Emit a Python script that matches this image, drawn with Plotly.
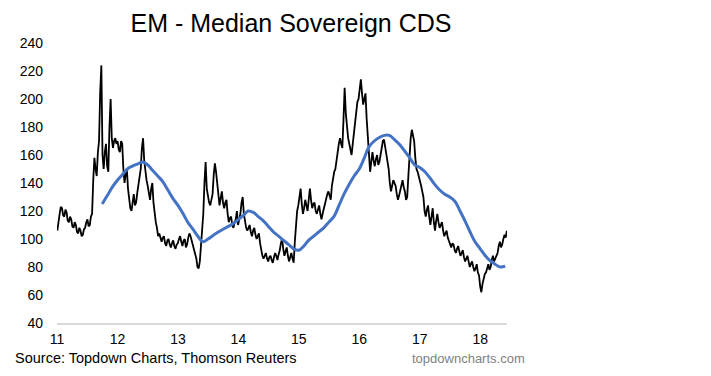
import pandas as pd
import plotly.graph_objects as go

# ---------------- data (weekly readings) ----------------
cds_2011 = [106, 114, 118, 123, 122, 117, 116, 121, 119, 113, 112, 116, 114, 109, 108, 112, 110, 105,
            104, 108, 106, 102, 103, 107, 108, 112, 114, 109, 110, 116, 118, 142, 158, 150, 145, 162,
            170, 205, 224, 160, 150, 162, 168, 152, 148, 180, 200, 172, 165, 170, 172, 168]
cds_2012 = [170, 164, 162, 170, 168, 150, 140, 146, 150, 136, 128, 122, 120, 127, 132, 124, 126, 133,
            138, 144, 150, 165, 172, 156, 148, 142, 138, 132, 128, 136, 140, 126, 118, 112, 108, 102,
            104, 100, 98, 101, 102, 97, 95, 99, 100, 96, 94, 97, 99, 95, 93, 96]
cds_2013 = [97, 100, 102, 98, 95, 99, 100, 94, 96, 101, 104, 102, 99, 95, 92, 90, 86, 80,
            79, 84, 96, 108, 118, 140, 155, 136, 130, 126, 124, 128, 132, 146, 154, 148, 140, 130,
            124, 129, 134, 126, 122, 126, 128, 118, 112, 115, 116, 110, 108, 112, 114, 120]
cds_2014 = [110, 114, 118, 126, 130, 118, 112, 108, 106, 109, 110, 105, 102, 106, 108, 103, 100, 102,
            104, 97, 92, 88, 86, 89, 90, 86, 84, 87, 88, 85, 83, 87, 90, 88, 85, 89,
            92, 97, 100, 93, 88, 91, 94, 88, 84, 87, 90, 86, 83, 98, 112, 120]
cds_2015 = [124, 130, 136, 125, 118, 122, 128, 124, 120, 128, 136, 128, 122, 125, 126, 120, 118, 121,
            124, 118, 114, 118, 122, 126, 128, 132, 134, 130, 128, 138, 145, 148, 150, 158, 162, 168,
            172, 168, 165, 185, 208, 190, 178, 172, 168, 164, 160, 168, 175, 184, 192, 198]
cds_2016 = [200, 208, 214, 204, 196, 200, 204, 186, 170, 158, 148, 155, 162, 156, 152, 157, 160, 153,
            155, 160, 166, 170, 171, 165, 160, 154, 150, 140, 134, 138, 142, 140, 138, 132, 128, 131,
            134, 138, 142, 137, 134, 128, 130, 145, 160, 172, 178, 175, 170, 158, 150, 148]
cds_2017 = [145, 142, 138, 134, 130, 120, 116, 121, 124, 116, 110, 116, 122, 112, 106, 113, 118, 112,
            108, 110, 112, 106, 102, 104, 106, 101, 98, 95, 94, 97, 96, 92, 90, 93, 95, 91,
            88, 90, 92, 87, 84, 86, 88, 84, 80, 82, 84, 80, 77, 79, 82, 76]
cds_2018 = [74, 66, 62, 68, 72, 75, 76, 80, 82, 78, 80, 85, 88, 84, 86, 89, 90, 95,
            98, 94, 96, 100, 103, 101, 106]

ma_values = [125, 131, 137,                                              # 2011 Oct-Dec
             142, 146, 150, 152, 153.5, 155, 153, 149, 145, 141, 135, 129,  # 2012
             124, 118, 112, 107, 102, 98, 100, 102.5, 105, 107, 109, 111,   # 2013
             114, 117, 120, 119, 116, 113, 109, 105, 102, 99, 96, 93,       # 2014
             92, 95, 99, 102, 105, 108, 112, 116, 124, 132, 139, 145,       # 2015
             150, 158, 166, 170, 172.5, 174, 174, 171, 167.5, 163, 158, 153,  # 2016
             151, 148, 144, 139, 135, 132, 130, 127, 120, 113, 105, 98,     # 2017
             93, 88, 84.5, 82, 80, 80.5]                                    # 2018 Jan-Jun

year_ticks = ["2011-01-01", "2012-01-01", "2013-01-01", "2014-01-01",
              "2015-01-01", "2016-01-01", "2017-01-01", "2018-01-01"]
year_labels = ["11", "12", "13", "14", "15", "16", "17", "18"]
y_ticks = [40, 60, 80, 100, 120, 140, 160, 180, 200, 220, 240]

cds_values = cds_2011 + cds_2012 + cds_2013 + cds_2014 + cds_2015 + cds_2016 + cds_2017 + cds_2018
cds_dates = pd.date_range("2011-01-03", periods=len(cds_values), freq="7D")
ma_dates = pd.date_range("2011-10-01", periods=len(ma_values), freq="MS")

# ---------------- figure ----------------
# The page body has an 8px default margin, so the figure is laid out 8px smaller
FONT = "Liberation Sans, Arial, sans-serif"
W, H = 695, 360

fig = go.Figure()
fig.add_trace(go.Scatter(x=cds_dates, y=cds_values, mode="lines",
                         line=dict(color="#000000", width=1.8), showlegend=False))
fig.add_trace(go.Scatter(x=ma_dates, y=ma_values, mode="lines",
                         line=dict(color="#4472C4", width=3, shape="spline"), showlegend=False))

fig.update_layout(
    width=W, height=H,
    margin=dict(l=49, r=W - 499, t=35, b=H - 315),
    paper_bgcolor="white", plot_bgcolor="white",
    font=dict(family=FONT, size=14, color="#000000"),
    title=dict(text="EM - Median Sovereign CDS", font=dict(family=FONT, size=25, color="#000000"),
               x=283 / W, xanchor="center", xref="container",
               y=1 - 15 / H, yanchor="middle", yref="container"),
    xaxis=dict(type="date", range=["2011-01-01", "2018-06-12"],
               tickvals=year_ticks, ticktext=year_labels,
               showgrid=False, zeroline=False,
               showline=True, linecolor="#d9d9d9", linewidth=2,
               ticks="", ticklabelstandoff=2,
               tickfont=dict(family=FONT, size=14, color="#000000")),
    yaxis=dict(range=[40, 240], tickvals=y_ticks, ticktext=[str(v) for v in y_ticks],
               showgrid=False, zeroline=False, showline=False,
               ticks="", ticklabelstandoff=13,
               tickfont=dict(family=FONT, size=14, color="#000000")),
    annotations=[
        dict(text="Source: Topdown Charts, Thomson Reuters", xref="paper", yref="paper",
             x=(5 - 49) / 450, y=(315 - 350) / 280, xanchor="left", yanchor="middle",
             showarrow=False, font=dict(family=FONT, size=14.5, color="#000000")),
        dict(text="topdowncharts.com", xref="paper", yref="paper",
             x=(402 - 49) / 450, y=(315 - 350) / 280, xanchor="left", yanchor="middle",
             showarrow=False, font=dict(family=FONT, size=13, color="#7f7f7f")),
    ],
)

fig.write_html("out.html")
